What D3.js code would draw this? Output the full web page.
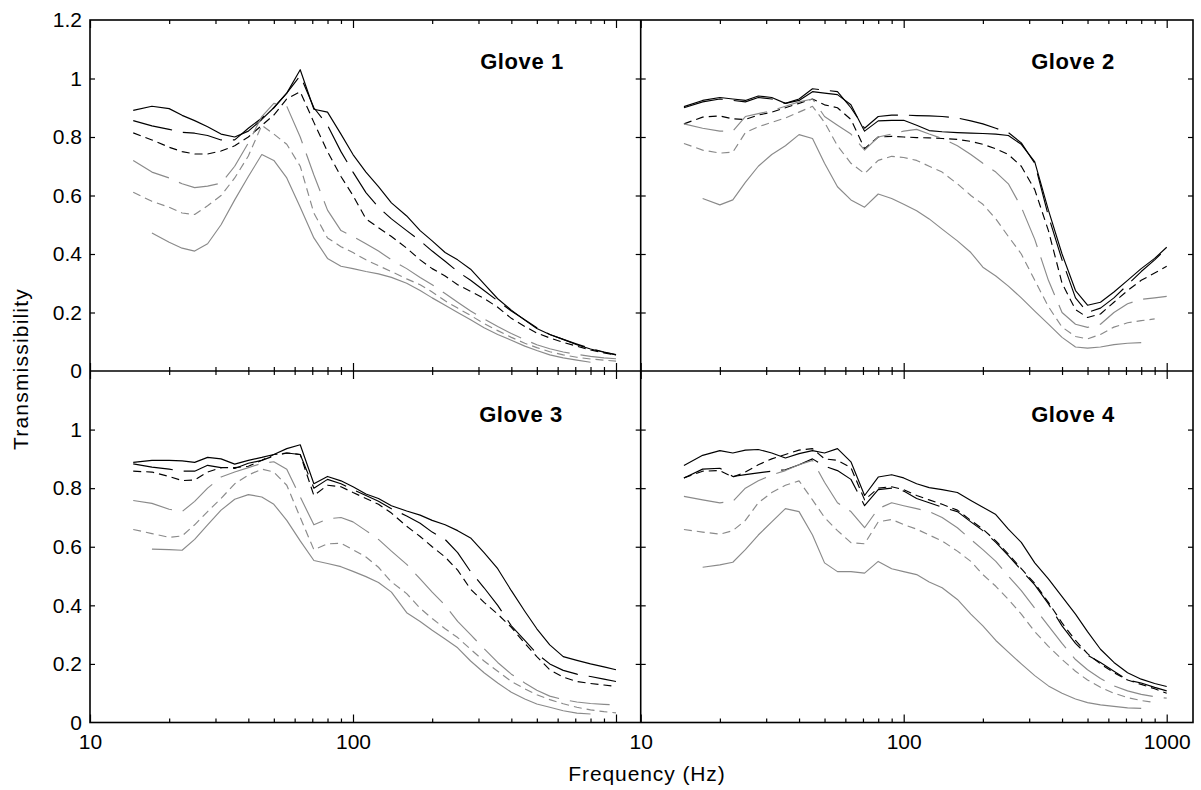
<!DOCTYPE html>
<html><head><meta charset="utf-8">
<script src="https://cdn.jsdelivr.net/npm/d3@7"></script>
<style>
body{margin:0;background:#fff;}
svg text{font-family:"Liberation Sans",Arial,Helvetica,sans-serif;fill:#000;}
</style></head>
<body>
<svg id="chart" width="1201" height="790"></svg>
<script>
// ---------- data ----------
const freq = [14.6,17.2,20,22.4,25,28,31.5,35.5,40,45,50,56,63,71,80,90,100,112,125,140,160,180,200,224,250,280,315,355,400,450,500,560,630,710,800,900,1000];
const gloveNames = ["Glove 1","Glove 2","Glove 3","Glove 4"];
const yTickValuesTop = [0,0.2,0.4,0.6,0.8,1,1.2];
const yTickLabelsTop = ["0","0.2","0.4","0.6","0.8","1","1.2"];
const yTickValuesBottom = [0,0.2,0.4,0.6,0.8,1];
const yTickLabelsBottom = ["0","0.2","0.4","0.6","0.8","1"];
const xMajorTicks = [10,100,1000];
const xMinorTicks = [20,30,40,50,60,70,80,90,200,300,400,500,600,700,800,900];
const xLabelsLeft = [10,100];
const xLabelsRight = [10,100,1000];
const xTitle = "Frequency (Hz)";
const yTitle = "Transmissibility";

// Glove 1
const g1_blackSolid  = [.891,.905,.897,.874,.856,.835,.81,.80,.82,.86,.90,.95,1.03,.895,.885,.81,.74,.68,.63,.575,.53,.48,.445,.405,.38,.348,.298,.247,.208,.174,.145,.125,.108,.09,.075,.064,.055];
const g1_blackLong   = [.856,.838,.826,.816,.813,.805,.79,.79,.83,.865,.9,.95,1.01,.9,.84,.75,.68,.61,.56,.52,.48,.445,.41,.375,.34,.31,.275,.24,.205,.175,.148,.125,.108,.092,.077,.065,.056];
const g1_blackDash   = [.814,.79,.765,.75,.742,.742,.752,.77,.80,.84,.875,.93,.955,.85,.75,.665,.60,.52,.49,.46,.42,.38,.35,.325,.295,.272,.248,.218,.18,.152,.13,.113,.098,.085,.072,.062,.054];
const g1_grayLong    = [.72,.68,.66,.64,.627,.632,.642,.70,.78,.87,.915,.905,.80,.67,.55,.48,.46,.435,.41,.38,.35,.32,.295,.265,.235,.205,.178,.152,.128,.107,.09,.076,.065,.057,.05,.045,.042];
const g1_grayDash    = [.611,.58,.56,.54,.535,.565,.6,.66,.735,.84,.81,.775,.70,.54,.455,.425,.405,.38,.36,.34,.315,.295,.27,.24,.215,.19,.162,.138,.115,.095,.08,.066,.055,.047,.041,.037,.034];
const g1_graySolid   = [null,.472,.44,.42,.41,.435,.5,.585,.665,.74,.72,.66,.56,.455,.385,.358,.35,.34,.332,.32,.30,.275,.25,.225,.2,.175,.148,.125,.105,.085,.07,.055,.045,.037,.03,null,null];
// Glove 2
const g2_blackSolid  = [.904,.925,.935,.93,.925,.94,.935,.915,.925,.955,.95,.945,.91,.82,.855,.857,.857,.84,.822,.818,.815,.813,.812,.81,.805,.775,.715,.55,.40,.275,.225,.235,.27,.31,.35,.385,.423];
const g2_blackLong   = [.9,.92,.93,.925,.92,.935,.93,.915,.93,.965,.96,.955,.9,.83,.87,.875,.875,.873,.872,.87,.865,.855,.845,.83,.815,.78,.71,.53,.38,.25,.2,.215,.25,.295,.34,.38,.42];
const g2_blackDash   = [.845,.868,.872,.862,.86,.875,.885,.9,.915,.93,.91,.9,.86,.76,.8,.802,.8,.798,.797,.795,.792,.785,.775,.76,.74,.70,.62,.48,.3,.21,.183,.195,.235,.275,.31,.335,.358];
const g2_grayLong    = [.845,.83,.82,.82,.87,.88,.89,.905,.92,.93,.87,.84,.81,.755,.80,.81,.82,.826,.81,.795,.77,.74,.71,.68,.64,.56,.45,.31,.2,.16,.149,.16,.2,.23,.245,.25,.255];
const g2_grayDash    = [.778,.755,.745,.748,.815,.835,.85,.865,.885,.905,.85,.77,.71,.675,.72,.734,.73,.72,.70,.68,.64,.60,.57,.52,.46,.40,.31,.22,.15,.118,.11,.125,.15,.165,.172,.178,null];
const g2_graySolid   = [null,.59,.568,.585,.645,.70,.74,.77,.808,.795,.71,.63,.585,.56,.605,.59,.57,.548,.52,.485,.445,.405,.355,.325,.29,.25,.205,.16,.115,.082,.078,.082,.09,.095,.097,null,null];
// Glove 3
const g3_blackSolid  = [.888,.895,.895,.893,.888,.905,.9,.882,.895,.905,.915,.935,.948,.815,.84,.825,.805,.78,.765,.74,.722,.708,.69,.675,.655,.63,.58,.525,.45,.38,.32,.265,.225,.212,.2,.19,.18];
const g3_blackLong   = [.883,.872,.865,.858,.858,.878,.87,.867,.885,.895,.91,.92,.915,.80,.83,.815,.795,.775,.755,.73,.705,.68,.65,.625,.58,.515,.46,.40,.33,.28,.235,.2,.178,.165,.157,.148,.14];
const g3_blackDash   = [.858,.855,.84,.826,.828,.855,.87,.87,.875,.895,.915,.92,.915,.775,.81,.805,.785,.765,.745,.715,.67,.635,.6,.565,.52,.455,.41,.37,.325,.27,.225,.18,.155,.14,.133,.128,.123];
const g3_grayLong    = [.758,.748,.728,.72,.755,.80,.838,.855,.87,.885,.89,.865,.77,.675,.695,.70,.685,.655,.625,.585,.54,.49,.445,.4,.345,.3,.252,.205,.165,.135,.11,.09,.078,.07,.065,.062,.06];
const g3_grayDash    = [.659,.645,.632,.637,.675,.72,.765,.815,.845,.865,.855,.81,.70,.59,.61,.612,.59,.565,.53,.48,.44,.39,.355,.32,.29,.25,.21,.175,.14,.115,.095,.078,.064,.052,.043,.037,.033];
const g3_graySolid   = [null,.592,.59,.588,.625,.675,.725,.762,.778,.77,.745,.69,.62,.553,.543,.532,.516,.498,.478,.445,.375,.345,.315,.285,.255,.21,.17,.135,.103,.08,.063,.052,.04,.032,.029,null,null];
// Glove 4
const g4_blackSolid  = [.877,.912,.928,.92,.93,.932,.92,.903,.918,.928,.92,.935,.89,.775,.838,.846,.835,.815,.802,.795,.785,.758,.735,.71,.66,.615,.545,.49,.43,.37,.31,.25,.205,.17,.148,.133,.123];
const g4_blackLong   = [.835,.865,.868,.84,.846,.852,.858,.863,.88,.9,.875,.86,.83,.74,.795,.8,.79,.765,.75,.735,.72,.685,.655,.615,.57,.52,.47,.405,.33,.27,.23,.205,.175,.145,.135,.12,.108];
const g4_blackDash   = [.835,.858,.86,.838,.855,.88,.9,.915,.93,.935,.9,.895,.87,.76,.8,.805,.795,.775,.76,.745,.725,.69,.66,.62,.575,.525,.475,.41,.34,.28,.235,.2,.17,.145,.13,.115,.1];
const g4_grayLong    = [.772,.76,.75,.755,.8,.825,.845,.86,.88,.895,.82,.75,.72,.665,.73,.75,.74,.73,.72,.7,.665,.625,.59,.55,.5,.45,.39,.33,.27,.215,.18,.15,.125,.108,.096,.088,.083];
const g4_grayDash    = [.659,.65,.643,.655,.69,.75,.785,.81,.825,.76,.7,.655,.614,.61,.685,.693,.676,.66,.64,.62,.585,.55,.505,.465,.42,.37,.31,.26,.215,.175,.145,.12,.1,.085,.075,.068,null];
const g4_graySolid   = [null,.53,.538,.547,.59,.64,.685,.73,.72,.64,.545,.515,.515,.51,.55,.525,.515,.505,.48,.46,.42,.37,.33,.28,.24,.2,.16,.125,.1,.08,.068,.06,.055,.05,.048,null,null];

// ---------- layout & style ----------
const gloveSeries = [
  [g1_blackSolid,g1_blackLong,g1_blackDash,g1_grayLong,g1_grayDash,g1_graySolid],
  [g2_blackSolid,g2_blackLong,g2_blackDash,g2_grayLong,g2_grayDash,g2_graySolid],
  [g3_blackSolid,g3_blackLong,g3_blackDash,g3_grayLong,g3_grayDash,g3_graySolid],
  [g4_blackSolid,g4_blackLong,g4_blackDash,g4_grayLong,g4_grayDash,g4_graySolid]
];
const GRAY = "#8a8a8a";
const styles = [
  {color:"#000", dash:null},
  {color:"#000", dash:"40,11"},
  {color:"#000", dash:"8,5"},
  {color:GRAY, dash:"40,11"},
  {color:GRAY, dash:"8,5"},
  {color:GRAY, dash:null}
];
const X0=90, XM=640.7, X1=1193, Y0=20, YM=371, Y1=722.5, DEC=263;
const boxes = [
  {x0:X0,x1:XM,y0:Y0,y1:YM, lx:522, ly:69, left:true, bottom:false},
  {x0:XM,x1:X1,y0:Y0,y1:YM, lx:1073, ly:69, left:false, bottom:false},
  {x0:X0,x1:XM,y0:YM,y1:Y1, lx:521, ly:421.5, left:true, bottom:true},
  {x0:XM,x1:X1,y0:YM,y1:Y1, lx:1073, ly:421.5, left:false, bottom:true}
];

const svg = d3.select("#chart");
svg.append("rect").attr("width",1201).attr("height",790).attr("fill","#fff");

function styleAxis(g, size){
  g.select(".domain").remove();
  g.selectAll("line").attr("stroke","#000").attr("stroke-width",1.2);
  g.selectAll("text").attr("font-size",size).attr("fill","#000")
    .attr("font-family","'Liberation Sans',Arial,sans-serif");
}

boxes.forEach((b,i)=>{
  const x = d3.scaleLog().domain([10, 10*Math.pow(10,(b.x1-b.x0)/DEC)]).range([b.x0,b.x1]);
  const y = d3.scaleLinear().domain([0,1.2]).range([b.y1,b.y0]);
  const g = svg.append("g");

  // curves
  const line = d3.line().defined(d=>d[1]!=null).x(d=>x(d[0])).y(d=>y(d[1]));
  gloveSeries[i].forEach((vals,k)=>{
    const pts = freq.map((f,j)=>[f, vals[j]]);
    g.append("path").datum(pts).attr("d",line)
      .attr("fill","none").attr("stroke",styles[k].color)
      .attr("stroke-width",1.15)
      .attr("stroke-dasharray",styles[k].dash)
      .attr("stroke-linejoin","round");
  });

  // x ticks (inward) top and bottom edges
  [[xMinorTicks,4],[xMajorTicks,8]].forEach(([vals,len])=>{
    g.append("g").attr("transform",`translate(0,${b.y0})`)
      .call(d3.axisBottom(x).tickValues(vals).tickSize(len).tickFormat(""))
      .call(a=>styleAxis(a,20));
    g.append("g").attr("transform",`translate(0,${b.y1})`)
      .call(d3.axisTop(x).tickValues(vals).tickSize(len).tickFormat(""))
      .call(a=>styleAxis(a,20));
  });
  // y ticks inward on both sides
  const yt = [0.2,0.4,0.6,0.8,1.0];
  g.append("g").attr("transform",`translate(${b.x0},0)`)
    .call(d3.axisRight(y).tickValues(yt).tickSize(5).tickFormat(""))
    .call(a=>styleAxis(a,20));
  g.append("g").attr("transform",`translate(${b.x1},0)`)
    .call(d3.axisLeft(y).tickValues(yt).tickSize(5).tickFormat(""))
    .call(a=>styleAxis(a,20));

  // y labels
  if(b.left){
    const vals = b.bottom ? yTickValuesBottom : yTickValuesTop;
    const labs = b.bottom ? yTickLabelsBottom : yTickLabelsTop;
    g.append("g").attr("transform",`translate(${b.x0},0)`)
      .call(d3.axisLeft(y).tickValues(vals).tickSize(0).tickPadding(8)
        .tickFormat((d,j)=>labs[j]))
      .call(a=>styleAxis(a,21));
  }
  // x labels
  if(b.bottom){
    const vals = b.left ? xLabelsLeft : xLabelsRight;
    g.append("g").attr("transform",`translate(0,${b.y1})`)
      .call(d3.axisBottom(x).tickValues(vals).tickSize(0).tickPadding(12)
        .tickFormat(d=>String(d)))
      .call(a=>styleAxis(a,21));
  }

  // panel title
  g.append("text").attr("x",b.lx).attr("y",b.ly).attr("text-anchor","middle")
    .attr("font-size",22).attr("font-weight","bold").attr("letter-spacing",0.6)
    .text(gloveNames[i]);
});

// frame
const fr = svg.append("g").attr("fill","none").attr("stroke","#000").attr("stroke-width",1.6);
fr.append("rect").attr("x",X0).attr("y",Y0).attr("width",X1-X0).attr("height",Y1-Y0);
fr.append("line").attr("x1",XM).attr("x2",XM).attr("y1",Y0).attr("y2",Y1);
fr.append("line").attr("x1",X0).attr("x2",X1).attr("y1",YM).attr("y2",YM);

// axis titles
svg.append("text").attr("x",647).attr("y",781).attr("text-anchor","middle")
  .attr("font-size",21).attr("letter-spacing",0.9).text(xTitle);
svg.append("text").attr("transform","translate(28,369) rotate(-90)").attr("text-anchor","middle")
  .attr("font-size",21).attr("letter-spacing",1.2).text(yTitle);
</script>
</body></html>
